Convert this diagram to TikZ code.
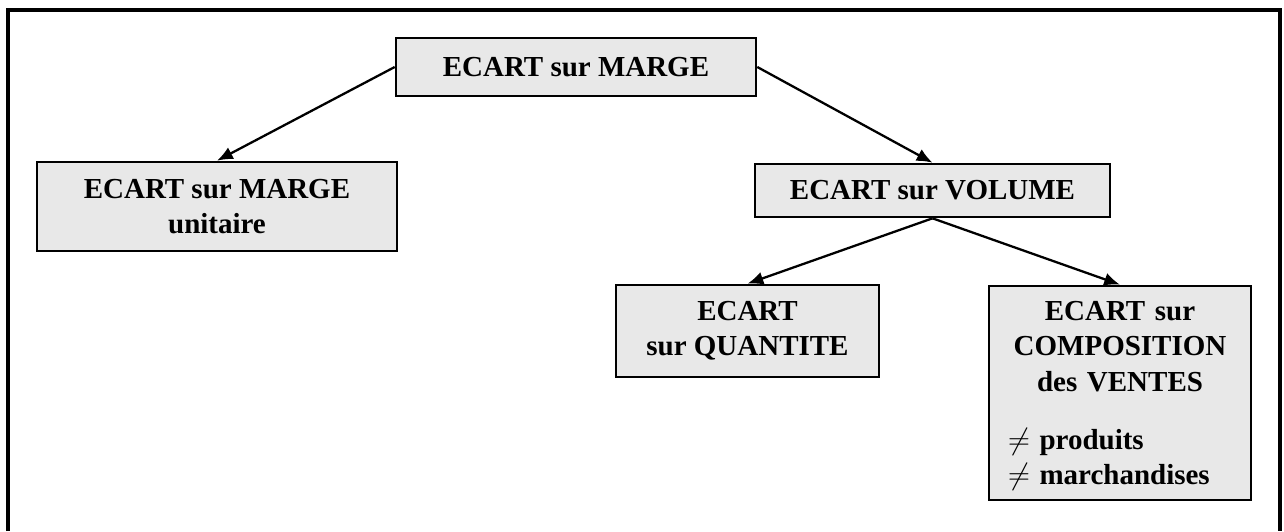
\documentclass[tikz,border=0pt]{standalone}
\usepackage{fontspec}
\setmainfont{Liberation Serif}
\usetikzlibrary{arrows.meta}
\definecolor{boxgray}{RGB}{232,232,232}
\tikzset{
  ecart/.style={draw, fill=boxgray, line width=1.5pt, align=center, inner sep=0pt,
    font=\bfseries\fontsize{16.5}{20}\selectfont},
  fleche/.style={-{Latex[length=9pt,width=7.5pt]}, line width=1.3pt}
}
\begin{document}
\begin{tikzpicture}[x=0.02cm, y=-0.02cm]
				  \useasboundingbox (0,0) rectangle (1284,531);
				  \draw[line width=2.2pt] (8,531) -- (8,10) -- (1280,10) -- (1280,531);
				  \node[ecart, minimum width=7.2cm, minimum height=1.16cm] (marge) at (576,67) {ECART sur MARGE};
				  \node[ecart, minimum width=7.2cm, minimum height=1.78cm] (unitaire) at (217,206.5) {ECART sur MARGE\\unitaire};
				  \node[ecart, minimum width=7.1cm, minimum height=1.06cm] (volume) at (932.5,190.5) {ECART sur VOLUME};
				  \node[ecart, minimum width=5.26cm, minimum height=1.84cm] (quantite) at (747.5,331) {ECART\\sur QUANTITE};
				  \node[ecart, minimum width=5.24cm, minimum height=4.28cm, text width=4.48cm] (compo) at (1120,393)
				    {\rule{0pt}{0.5cm}ECART sur\\COMPOSITION\\des VENTES\\[13pt]\makebox[4.48cm][l]{$\neq$ produits}\\\makebox[4.48cm][l]{$\neq$ marchandises}};
				  \draw[fleche] (marge.west) -- (unitaire.north);
				  \draw[fleche] (marge.east) -- (volume.north);
				  \draw[fleche] (volume.south) -- (quantite.north);
				  \draw[fleche] (volume.south) -- (compo.north);
				\end{tikzpicture}
\end{document}
